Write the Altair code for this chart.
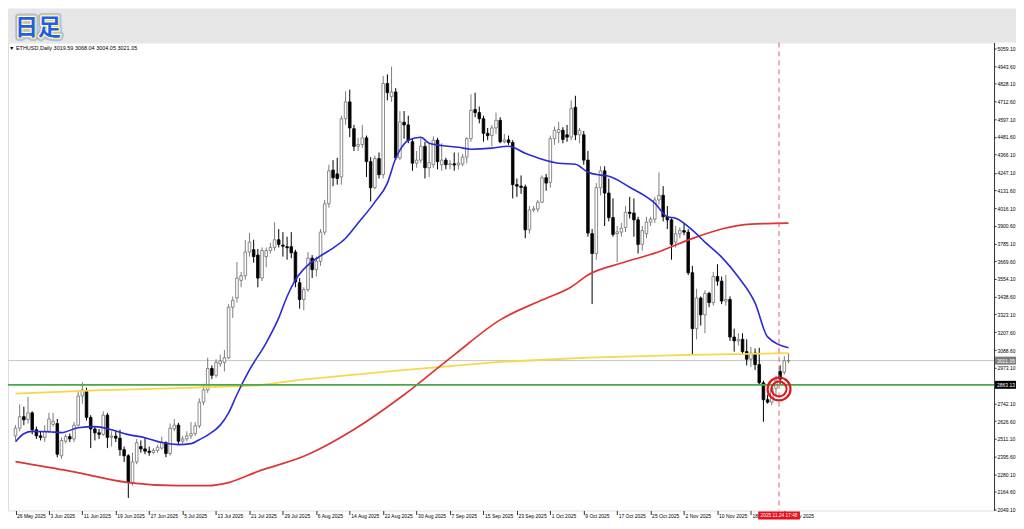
import altair as alt
import pandas as pd
import numpy as np

# ---------------- data ----------------
dates = pd.date_range("2025-05-26", "2025-11-27", freq="D").strftime("%Y-%m-%d").tolist()

opens = [2530,2580,2655,2636,2680,2570,2530,2520,2560,2605,
         2610,2400,2495,2525,2510,2600,2790,2820,2650,2575,
         2550,2540,2665,2520,2528,2515,2440,2400,2225,2360,
         2460,2445,2430,2422,2435,2450,2485,2415,2575,2600,
         2495,2510,2530,2545,2595,2750,2830,2970,2925,3000,
         3010,3040,3370,3430,3545,3575,3730,3745,3710,3560,
         3700,3740,3760,3810,3775,3765,3765,3730,3530,3420,
         3485,3690,3615,3670,3860,4045,4265,4240,4220,4600,
         4710,4535,4420,4432,4475,4320,4150,4340,4235,4830,
         4745,4775,4345,4577,4560,4450,4310,4330,4420,4280,
         4300,4460,4300,4330,4300,4306,4298,4305,4350,4470,
         4660,4640,4600,4505,4490,4540,4590,4450,4462,4445,
         4170,4160,4155,3875,4005,4010,4055,4215,4185,4470,
         4510,4525,4495,4480,4675,4495,4495,4330,3850,3720,
         4150,4260,4115,3955,3850,3860,3890,3990,3985,3940,
         3780,3850,3925,3945,4070,4100,3960,3940,3795,3850,
         3870,3860,3595,3230,3430,3320,3460,3400,3570,3540,
         3410,3420,3175,3150,3160,3080,3030,3070,2995,2876,
         2766,2750,2840,2950,2945,3019.59]
highs = [2600,2735,2720,2785,2690,2590,2560,2600,2680,2680,
         2640,2520,2540,2545,2620,2830,2880,2845,2665,2590,
         2575,2690,2680,2560,2560,2570,2460,2410,2420,2510,
         2500,2520,2460,2450,2470,2525,2495,2610,2640,2615,
         2530,2560,2620,2620,2775,2870,3040,2990,3030,3060,
         3090,3390,3440,3665,3600,3808,3855,3810,3750,3760,
         3760,3790,3925,3880,3860,3830,3860,3745,3560,3500,
         3730,3710,3700,3880,4070,4300,4330,4345,4620,4780,
         4790,4560,4475,4560,4490,4350,4360,4380,4880,4890,
         4940,4800,4650,4650,4620,4470,4390,4480,4450,4440,
         4485,4475,4440,4345,4330,4380,4380,4370,4480,4760,
         4770,4680,4620,4540,4560,4640,4610,4500,4490,4460,
         4210,4230,4170,4030,4030,4070,4230,4240,4490,4550,
         4580,4545,4560,4720,4750,4540,4520,4390,3880,4180,
         4290,4290,4210,4080,3900,3920,4030,4090,4080,3960,
         3900,3960,3960,4090,4250,4160,4030,3950,3900,3890,
         3920,3880,3640,3490,3440,3480,3470,3600,3650,3570,
         3580,3440,3230,3200,3200,3160,3110,3100,3105,2890,
         2800,2860,2920,2990,3050,3068.04]
lows = [2500,2560,2600,2610,2540,2510,2500,2490,2550,2590,
        2390,2380,2480,2490,2490,2590,2740,2630,2450,2500,
        2510,2530,2450,2460,2490,2400,2360,2125,2205,2345,
        2420,2410,2400,2410,2420,2440,2390,2400,2560,2470,
        2480,2495,2510,2530,2580,2730,2810,2900,2910,2980,
        2950,3030,3300,3400,3500,3550,3700,3660,3500,3540,
        3630,3720,3740,3760,3700,3680,3690,3500,3360,3350,
        3470,3560,3570,3640,3840,4020,4160,4170,4170,4560,
        4480,4390,4390,4410,4220,4060,4140,4210,4210,4720,
        4710,4330,4330,4470,4440,4260,4280,4310,4210,4220,
        4280,4270,4260,4270,4270,4260,4270,4290,4310,4450,
        4610,4570,4450,4460,4420,4500,4440,4440,4430,4080,
        4090,4110,3820,3850,3990,3990,4050,4130,4150,4430,
        4440,4440,4450,4460,4460,4440,4300,3830,3390,3680,
        4100,3900,3930,3830,3665,3830,3860,3950,3830,3720,
        3740,3820,3900,3920,4040,3930,3880,3680,3760,3820,
        3840,3580,3060,3160,3250,3200,3370,3380,3510,3390,
        3380,3150,3080,3120,3060,2990,2980,2960,2860,2622,
        2740,2730,2790,2860,2930,3004.05]
closes = [2580,2655,2635,2680,2570,2530,2520,2560,2640,2625,
          2410,2500,2525,2510,2600,2790,2830,2650,2575,2550,
          2540,2665,2520,2528,2515,2440,2400,2230,2360,2485,
          2445,2430,2422,2435,2455,2490,2415,2580,2600,2495,
          2510,2530,2545,2595,2750,2830,2970,2925,3010,3018,
          3040,3370,3415,3560,3575,3730,3795,3700,3560,3740,
          3740,3760,3810,3780,3768,3758,3725,3535,3420,3485,
          3690,3615,3670,3860,4045,4260,4215,4210,4600,4710,
          4540,4420,4432,4475,4320,4150,4340,4235,4830,4770,
          4775,4345,4580,4560,4460,4310,4330,4420,4280,4315,
          4460,4320,4330,4300,4306,4298,4310,4350,4470,4655,
          4640,4600,4505,4490,4540,4590,4450,4462,4445,4170,
          4160,4152,3875,4005,4012,4055,4215,4180,4470,4525,
          4530,4465,4480,4668,4495,4525,4330,3854,3720,4150,
          4260,4115,3955,3845,3862,3885,3990,3982,3940,3780,
          3870,3925,3945,4070,4100,3960,3940,3780,3850,3870,
          3860,3595,3230,3430,3320,3460,3400,3570,3540,3410,
          3420,3175,3150,3160,3080,3030,3070,2995,2876,2766,
          2750,2840,2895,2900,3020,3021.05]

# moving-average lines (day index from 26 May 2025, price)
blue_days = [0,2,4,8,11,15,19,23,27,31,35,39,42,44,46,49,51,53,56,60,63,65,67,70,73,76,79,82,86,89,
             91,92,94,97,99,102,106,109,114,118,122,126,130,134,137,140,142,147,153,156,158,162,165,169,
             173,177,180,185]
blue_vals = [2492,2544,2559,2557,2551,2583,2590,2570,2538,2518,2486,2473,2479,2505,2535,2600,2680,2800,2960,
             3137,3300,3440,3548,3645,3705,3756,3820,3919,4056,4180,4342,4395,4460,4479,4440,4425,4414,4401,
             4408,4421,4375,4336,4310,4303,4251,4232,4225,4153,4049,3960,3950,3873,3795,3697,3567,3398,3176,
             3105]
red_days = [0,13,27,39,46,51,58,70,81,93,105,116,126,133,137,145,153,161,169,176,185]
red_vals = [2362,2300,2225,2205,2205,2225,2297,2408,2571,2798,3059,3287,3417,3502,3580,3658,3723,3808,3880,
            3912,3919]
yellow_days = [0,19,39,58,68,92,116,137,161,185]
yellow_vals = [2805,2827,2842,2859,2896,2957,3013,3040,3059,3070]

price_ticks = [5059.10,4943.60,4828.10,4712.60,4597.10,4481.60,4366.10,4247.10,4131.60,4016.10,
               3900.60,3785.10,3669.60,3554.10,3438.60,3323.10,3207.60,3088.60,2973.10,2742.10,
               2626.60,2511.10,2395.60,2280.10,2164.60,2049.10]
x_label_dates = ["2025-05-26","2025-06-03","2025-06-11","2025-06-19","2025-06-27","2025-07-05",
                 "2025-07-13","2025-07-21","2025-07-29","2025-08-06","2025-08-14","2025-08-22",
                 "2025-08-30","2025-09-07","2025-09-15","2025-09-23","2025-10-01","2025-10-09",
                 "2025-10-17","2025-10-25","2025-11-02","2025-11-10","2025-11-18","2025-11-26"]

level_prices = [3021.05, 2863.13]
level_labels = ["3021.05", "2863.13"]
level_names = ["current", "green"]
marker_time = "2025-11-24T17:48:00Z"
marker_box = ["2025-11-19T17:48:00Z", "2025-11-29T17:48:00Z"]
marker_label = "2025.11.24 17:48"
marker_price = 2836
info_text = "▼ ETHUSD,Daily  3019.59 3068.04 3004.05 3021.05"
title_text = "日足"

# ---------------- tables ----------------
candles = pd.DataFrame({"date": dates, "open": opens, "high": highs, "low": lows, "close": closes})
candles["dir"] = np.where(candles["close"] >= candles["open"], "bull", "bear")
candles["body_lo"] = candles[["open", "close"]].min(axis=1)
candles["body_hi"] = candles[["open", "close"]].max(axis=1)

blue_df = pd.DataFrame({"date": [dates[d] for d in blue_days], "v": blue_vals})
red_df = pd.DataFrame({"date": [dates[d] for d in red_days], "v": red_vals})
yellow_df = pd.DataFrame({"date": [dates[d] for d in yellow_days], "v": yellow_vals})
levels = pd.DataFrame({"price": level_prices, "label": level_labels, "name": level_names})
marker = pd.DataFrame({"t": [marker_time], "t1": [marker_box[0]], "t2": [marker_box[1]],
                       "p": [marker_price], "label": [marker_label]})
one = pd.DataFrame({"k": [0]})


def dt(s):
    ts = pd.Timestamp(s)
    return alt.DateTime(year=ts.year, month=ts.month, date=ts.day, hours=ts.hour,
                        minutes=ts.minute, utc=True)


FONT = "Liberation Sans, DejaVu Sans"
x_scale = alt.Scale(type="utc", domain=[dt("2025-05-25T09:36"), dt("2026-01-14T00:00")])
y_scale = alt.Scale(domain=[2042.6, 5098.2], zero=False, nice=False)
x_axis = alt.Axis(values=[dt(s) for s in x_label_dates],
                  labelExpr="utcFormat(datum.value, '%-d %b %Y')",
                  labelAlign="left", labelBaseline="top", labelFontSize=5, labelPadding=-1,
                  labelOffset=1, tickSize=4, tickColor="#333333", domain=False, grid=False,
                  title=None, labelColor="#000000", labelFont=FONT, labelOverlap=False,
                  labelFlush=False)
y_axis = alt.Axis(orient="right", values=price_ticks, format=".2f", labelFontSize=5, tickSize=2,
                  labelPadding=1, domainColor="#333333", tickColor="#333333", grid=False,
                  title=None, labelOverlap=False, labelFlush=False, labelColor="#000000",
                  labelFont=FONT)


def X(f):
    return alt.X(f, type="temporal", scale=x_scale, axis=x_axis)


def Y(f):
    return alt.Y(f, type="quantitative", scale=y_scale, axis=y_axis)


strip = alt.Chart(one).mark_rect(color="#e6e6e6").encode(
    x=alt.value(0), x2=alt.value(1010), y=alt.value(-34), y2=alt.value(0))

cur_line = alt.Chart(levels[levels["name"] == "current"]).mark_rule(
    color="#c4c4c4", strokeWidth=1).encode(y=Y("price"))

wicks = alt.Chart(candles).mark_rule(strokeWidth=1).encode(
    x=X("date"), y=Y("low"), y2="high",
    color=alt.Color("dir:N", scale=alt.Scale(domain=["bull", "bear"], range=["#7c7c7c", "#000000"]),
                    legend=None))

bodies = alt.Chart(candles).mark_bar(size=2.6, strokeWidth=0.8).encode(
    x=X("date"), y=Y("body_lo"), y2="body_hi",
    fill=alt.Fill("dir:N", scale=alt.Scale(domain=["bull", "bear"], range=["#ffffff", "#000000"]),
                  legend=None),
    stroke=alt.Stroke("dir:N", scale=alt.Scale(domain=["bull", "bear"], range=["#6e6e6e", "#000000"]),
                      legend=None))

yellow = alt.Chart(yellow_df).mark_line(color="#f6d84a", strokeWidth=1.8).encode(x=X("date"), y=Y("v"))
red = alt.Chart(red_df).mark_line(color="#e03434", strokeWidth=1.7, interpolate="monotone").encode(
    x=X("date"), y=Y("v"))
blue = alt.Chart(blue_df).mark_line(color="#2a2ad8", strokeWidth=1.6, interpolate="monotone").encode(
    x=X("date"), y=Y("v"))

green_line = alt.Chart(levels[levels["name"] == "green"]).mark_rule(
    color="#49a849", strokeWidth=1.8).encode(y=Y("price"))

vline = alt.Chart(marker).mark_rule(color="#e35d5d", strokeWidth=1, strokeDash=[5, 4]).encode(x=X("t"))

ring_outer = alt.Chart(marker).mark_point(shape="circle", filled=False, color="#e0161b",
                                          strokeWidth=2.2, size=529, opacity=1).encode(x=X("t"), y=Y("p"))
ring_inner = alt.Chart(marker).mark_point(shape="circle", filled=False, color="#e0161b",
                                          strokeWidth=2.0, size=225, opacity=1).encode(x=X("t"), y=Y("p"))

info = alt.Chart(one).mark_text(text=info_text, align="left", baseline="middle", fontSize=5.5,
                                font=FONT, color="#000000").encode(x=alt.value(1), y=alt.value(6))

badge_kw = dict(text=title_text, align="center", baseline="middle", fontSize=23,
                font="Noto Sans CJK JP", fontWeight="bold")
BX, BY = 30, -14
badge_glow = alt.Chart(one).mark_text(fill="#5b8ff5", stroke="#5b8ff5", strokeWidth=7,
                                      strokeOpacity=0.45, strokeJoin="round", **badge_kw).encode(
    x=alt.value(BX), y=alt.value(BY))
badge_gold = alt.Chart(one).mark_text(fill="#f8d24a", stroke="#f8d24a", strokeWidth=3.6,
                                      strokeJoin="round", **badge_kw).encode(
    x=alt.value(BX), y=alt.value(BY))
badge_white = alt.Chart(one).mark_text(fill="#ffffff", stroke="#ffffff", strokeWidth=1.8,
                                       strokeJoin="round", **badge_kw).encode(
    x=alt.value(BX), y=alt.value(BY))
badge_fill = alt.Chart(one).mark_text(fill="#1d5fe6", **badge_kw).encode(
    x=alt.value(BX), y=alt.value(BY))

level_box = alt.Chart(levels).mark_rule(strokeWidth=8, strokeCap="butt").encode(
    y=Y("price"), x=alt.value(989), x2=alt.value(1010),
    color=alt.Color("name:N", scale=alt.Scale(domain=["current", "green"], range=["#000000", "#3caf3c"]),
                    legend=None))
level_text = alt.Chart(levels).mark_text(align="left", baseline="middle", fontSize=5, font=FONT,
                                         color="#ffffff").encode(
    y=Y("price"), x=alt.value(991), text="label:N")

date_box = alt.Chart(marker).mark_rect(color="#e8101e").encode(
    x=X("t1"), x2="t2", y=alt.value(470), y2=alt.value(478))
date_text = alt.Chart(marker).mark_text(align="center", baseline="middle", fontSize=4.8, font=FONT,
                                        color="#ffffff").encode(x=X("t"), y=alt.value(474), text="label:N")

chart = alt.layer(
    strip, cur_line, wicks, bodies, yellow, red, blue, green_line, vline,
    ring_outer, ring_inner, info, badge_glow, badge_gold, badge_white, badge_fill,
    level_box, level_text, date_box, date_text
).properties(
    width=988, height=469,
    padding={"left": 0, "top": 34, "right": 22, "bottom": 10},
    autosize=alt.AutoSizeParams(type="none"),
).configure_view(stroke="#555555", strokeWidth=1).configure(background="#ffffff")

chart.save("out.html", embed_options={"renderer": "svg", "actions": False})
